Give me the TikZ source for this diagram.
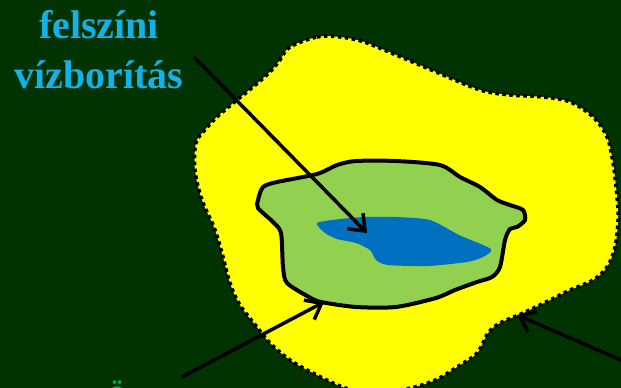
\documentclass[tikz,border=0pt]{standalone}
\usepackage{fontspec}
\setmainfont{Liberation Serif}
\usetikzlibrary{arrows.meta}
\definecolor{bgdark}{RGB}{0,51,0}
\definecolor{sandy}{RGB}{255,255,0}
\definecolor{meadow}{RGB}{146,208,80}
\definecolor{water}{RGB}{0,112,192}
\definecolor{skyblue}{RGB}{20,176,232}
\definecolor{leafgreen}{RGB}{0,176,80}
\tikzset{
  pointer/.style={line width=3.5pt,-{Straight Barb[length=14pt,width=22pt]}},
  caption/.style={font=\fontsize{40}{50}\selectfont\bfseries,align=center}
}
\begin{document}
\begin{tikzpicture}[x=1pt,y=-1pt]
\fill[bgdark] (0,0) rectangle (621,388);
\useasboundingbox (0,0) rectangle (621,388);
% sandy zone with dotted border
\fill[sandy] plot[smooth cycle,tension=0.55] coordinates {(290,47) (317,37) (340,37) (364,42) (396,55) (436,72) (480,90) (510,95) (543,97) (570,102) (593,117) (607,137) (613,163) (617,197) (618,220) (615,247) (607,267) (593,280) (570,290) (550,300) (523,313) (500,323) (488,333) (477,353) (457,367) (433,381) (400,390) (360,391) (340,386) (313,373) (290,360) (270,343) (257,327) (240,305) (230,283) (222,253) (214,227) (202,200) (195,170) (196,143) (205,130) (217,117) (237,100) (253,87) (270,72) (280,60)};
\draw[line width=3.5pt,dash pattern=on 3.5pt off 3.5pt] plot[smooth cycle,tension=0.55] coordinates {(290,47) (317,37) (340,37) (364,42) (396,55) (436,72) (480,90) (510,95) (543,97) (570,102) (593,117) (607,137) (613,163) (617,197) (618,220) (615,247) (607,267) (593,280) (570,290) (550,300) (523,313) (500,323) (488,333) (477,353) (457,367) (433,381) (400,390) (360,391) (340,386) (313,373) (290,360) (270,343) (257,327) (240,305) (230,283) (222,253) (214,227) (202,200) (195,170) (196,143) (205,130) (217,117) (237,100) (253,87) (270,72) (280,60)};
% meadow
\filldraw[fill=meadow,draw=black,line width=4pt] plot[smooth cycle,tension=0.45] coordinates {(258,200) (263,187) (277,182) (317,174) (337,165) (356,161) (396,161) (440,165) (460,177) (480,187) (497,200) (510,205) (523,210) (525,220) (517,227) (510,229) (505,240) (500,267) (492,277) (477,282) (455,290) (436,298) (396,307) (356,307) (321,302) (309,297) (287,283) (283,267) (281,233) (273,222) (258,208)};
% water
\fill[water] plot[smooth cycle,tension=0.4] coordinates {(317,223) (340,219) (364,217) (396,217) (430,220) (459,235) (491,249) (483,257) (467,262) (428,266) (388,265) (376,260) (370,250) (356,243) (337,239) (325,233)};
% labels
\node[caption,text=skyblue,anchor=base] (felszini) at (99,88) {felszíni\\vízborítás};
\node[font=\fontsize{31}{36}\selectfont\bfseries,text=leafgreen,anchor=base] (oko) at (117,401) {ö};
% arrows
\coordinate (a1s) at (194,57);
\coordinate (a1e) at (367,233);
\coordinate (a2s) at (182,377);
\coordinate (a2e) at (324,302);
\coordinate (a3s) at (621,360);
\coordinate (a3e) at (517,315);
\draw[pointer] (a1s) -- (a1e);
\draw[pointer] (a2s) -- (a2e);
\draw[pointer] (a3s) -- (a3e);
\end{tikzpicture}
\end{document}
